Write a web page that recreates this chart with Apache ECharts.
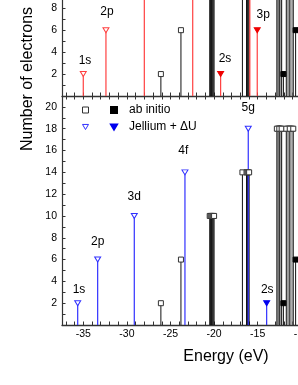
<!DOCTYPE html>
<html><head><meta charset="utf-8">
<script src="https://cdn.jsdelivr.net/npm/echarts@6/dist/echarts.min.js"></script>
<style>html,body{margin:0;padding:0;background:#fff}#c{width:298px;height:385px}</style>
</head><body><div id="c"></div>
<script>
// ---- data (energy in eV, number of electrons) ----
const abOpenLevels = [[-26.1,2],[-23.8,6],
  [-20.5,10],[-20.4,10],[-20.3,10],[-20.2,10],[-20.1,10],[-20.0,10],
  [-16.75,14],[-16.28,14],[-16.18,14],[-16.08,14],[-15.98,14],
  [-12.8,18],[-12.52,18],[-12.25,18],[-11.72,18],[-11.32,18],[-10.92,18]];
const abOpenDenseLevels = [[-12.7,18],[-12.6,18],[-12.42,18],[-12.33,18],[-11.6,18],[-11.45,18],[-11.18,18],[-11.05,18]];
const abFilledLevels = [[-12.05,2],[-10.65,6]];
const jelliumOpen = [[-35.0,2],[-32.4,6],[-28.0,10],[-22.45,14],[-15.9,18]];
const jelliumFilled = [[-19.25,2],[-15.05,6]];
const jelliumUOpen = [[-35.64,2],[-33.35,6],[-29.15,10],[-23.34,14],[-16.08,18]];
const jelliumUFilled = [[-13.97,2]];
const jelliumLabels = [[-34.8,3.18,'1s'],[-32.28,7.64,'2p'],[-18.75,3.36,'2s'],[-14.36,7.45,'3p']];
const jelliumULabels = [[-35.49,3.28,'1s'],[-33.35,7.64,'2p'],[-29.15,11.76,'3d'],[-23.53,15.97,'4f'],[-16.08,19.94,'5g'],[-13.9,3.28,'2s']];
const xMajorTicks = [-35,-30,-25,-20,-15,-10];
const xMinorTicks = [-37,-36,-35,-34,-33,-32,-31,-30,-29,-28,-27,-26,-25,-24,-23,-22,-21,-20,-19,-18,-17,-16,-15,-14,-13,-12,-11,-10,-9];
const yTopLabels = [2,4,6,8];
const yTopTicks = [1,2,3,4,5,6,7,8];
const yBotLabels = [2,4,6,8,10,12,14,16,18,20];
const yBotTicks = [1,2,3,4,5,6,7,8,9,10,11,12,13,14,15,16,17,18,19,20];

const XMIN = -37.44, XMAX = -9.0;
const FONT = '"Liberation Sans", Arial, sans-serif';
const RED = '#ff4040', BLUE = '#3030ff';
const DOWN_TRI = 'path://M0,0L10,0L5,8.5Z';

const chart = echarts.init(document.getElementById('c'), null, {renderer:'canvas'});

function stems(name, data, g, color, width, z) {
  return {
    type:'custom', name, xAxisIndex:g, yAxisIndex:g, data, z, silent:true,
    renderItem(params, api) {
      const x = api.value(0), y = api.value(1);
      const p0 = api.coord([x, 0]);
      const p1 = api.coord([x, y]);
      const top = Math.max(p1[1], params.coordSys.y);
      return {type:'line', shape:{x1:p0[0], y1:p0[1], x2:p0[0], y2:top},
              style:{stroke:color, lineWidth:width}};
    }
  };
}
function marks(name, data, g, symbol, size, fill, border, z) {
  return {
    type:'scatter', name, xAxisIndex:g, yAxisIndex:g, data, symbol,
    symbolSize:size,
    itemStyle:{color:fill, borderColor:border, borderWidth:1, opacity:1},
    z, silent:true, clip:true
  };
}
function labels(data, g) {
  return {
    type:'scatter', xAxisIndex:g, yAxisIndex:g, data, symbolSize:0, silent:true, z:10,
    itemStyle:{opacity:1},
    label:{show:true, position:'inside', formatter:p => p.value[2], color:'#000', fontSize:12, fontFamily:FONT}
  };
}

const series = [];
[0,1].forEach(g => {
  series.push(stems('abStem'+g, abOpenDenseLevels, g, '#8a8a8a', 1, 2));
  series.push(stems('abStemB'+g, abOpenLevels, g, '#111', 1, 3));
  series.push(stems('abFStem'+g, abFilledLevels, g, '#111', 1, 3));
  series.push(marks('abOpen', abOpenDenseLevels, g, 'rect', 5, '#fff', '#333', 5));
  series.push(marks('abOpen', abOpenLevels, g, 'rect', 5, '#fff', '#333', 5));
  series.push(marks('ab initio', abFilledLevels, g, 'rect', 5, '#000', '#000', 6));
});
series.push(stems('jelStem', jelliumOpen, 0, RED, 1.2, 4));
series.push(stems('jelFStem', jelliumFilled, 0, RED, 1.2, 4));
series.push(marks('jelOpen', jelliumOpen, 0, DOWN_TRI, [6,5], '#fff', RED, 7));
series.push(marks('jelFilled', jelliumFilled, 0, DOWN_TRI, [6,5], '#ee0000', '#ee0000', 7));
series.push(stems('jelUStem', jelliumUOpen, 1, BLUE, 1.2, 4));
series.push(stems('jelUFStem', jelliumUFilled, 1, BLUE, 1.2, 4));
series.push(marks('jelUOpen', jelliumUOpen, 1, DOWN_TRI, [6,5], '#fff', BLUE, 7));
series.push(marks('Jellium + ΔU', jelliumUFilled, 1, DOWN_TRI, [6,5], '#0000ee', '#0000ee', 7));
series.push(labels(jelliumLabels, 0));
series.push(labels(jelliumULabels, 1));

const axisCol = '#333';
function xAxis(g, pos, showLine, showLabel) {
  return {
    gridIndex:g, type:'value', min:XMIN, max:XMAX, position:pos,
    axisLine:{show:showLine, onZero:false, lineStyle:{color:axisCol, width:1.3}},
    axisTick:{show:true, inside:true, length:3.5, customValues:xMinorTicks, lineStyle:{color:axisCol, width:1}},
    axisLabel:{show:showLabel, customValues:xMajorTicks, margin:4, fontSize:10.5, color:'#000', fontFamily:FONT},
    splitLine:{show:false}
  };
}
function yAxis(g, max, ticks, labs) {
  return {
    gridIndex:g, type:'value', min:0, max,
    axisLine:{show:true, onZero:false, lineStyle:{color:axisCol, width:1.2}},
    axisTick:{show:true, inside:true, length:3.5, customValues:ticks, lineStyle:{color:axisCol, width:1}},
    axisLabel:{show:true, customValues:labs, margin:5, fontSize:10.5, color:'#000', fontFamily:FONT},
    splitLine:{show:false}
  };
}

chart.setOption({
  animation:false,
  backgroundColor:'#fff',
  grid:[
    {left:62, top:0, width:248, height:96, outerBoundsMode:'none', containLabel:false},
    {left:62, top:96, width:248, height:229, outerBoundsMode:'none', containLabel:false}
  ],
  xAxis:[xAxis(0,'bottom',true,false), xAxis(1,'bottom',true,true), xAxis(1,'top',false,false)],
  yAxis:[yAxis(0, 8.75, yTopTicks, yTopLabels), yAxis(1, 21, yBotTicks, yBotLabels)],
  legend:[
    {data:[{name:'abOpen', itemStyle:{borderWidth:1}}, {name:'jelUOpen', itemStyle:{borderWidth:1}}],
     left:82, top:101.5, padding:0, orient:'vertical', itemWidth:6, itemHeight:6, itemGap:0,
     formatter:() => ' ', selectedMode:false, textStyle:{fontSize:12, lineHeight:17, fontFamily:FONT}},
    {data:[{name:'ab initio'}, {name:'Jellium + ΔU'}],
     left:110, top:101.5, padding:0, orient:'vertical', itemWidth:6, itemHeight:6, itemGap:0,
     selectedMode:false, textStyle:{fontSize:12, lineHeight:17, color:'#000', fontFamily:FONT, padding:[0,0,0,7]}}
  ],
  graphic:[
    {type:'text', x:27.5, y:79, rotation:Math.PI/2,
     style:{text:'Number of electrons', fontSize:16, fontFamily:FONT, fill:'#000', align:'center', verticalAlign:'middle'}},
    {type:'text', x:226, y:357,
     style:{text:'Energy (eV)', fontSize:16, fontFamily:FONT, fill:'#000', align:'center', verticalAlign:'middle'}}
  ],
  series
});
</script></body></html>
